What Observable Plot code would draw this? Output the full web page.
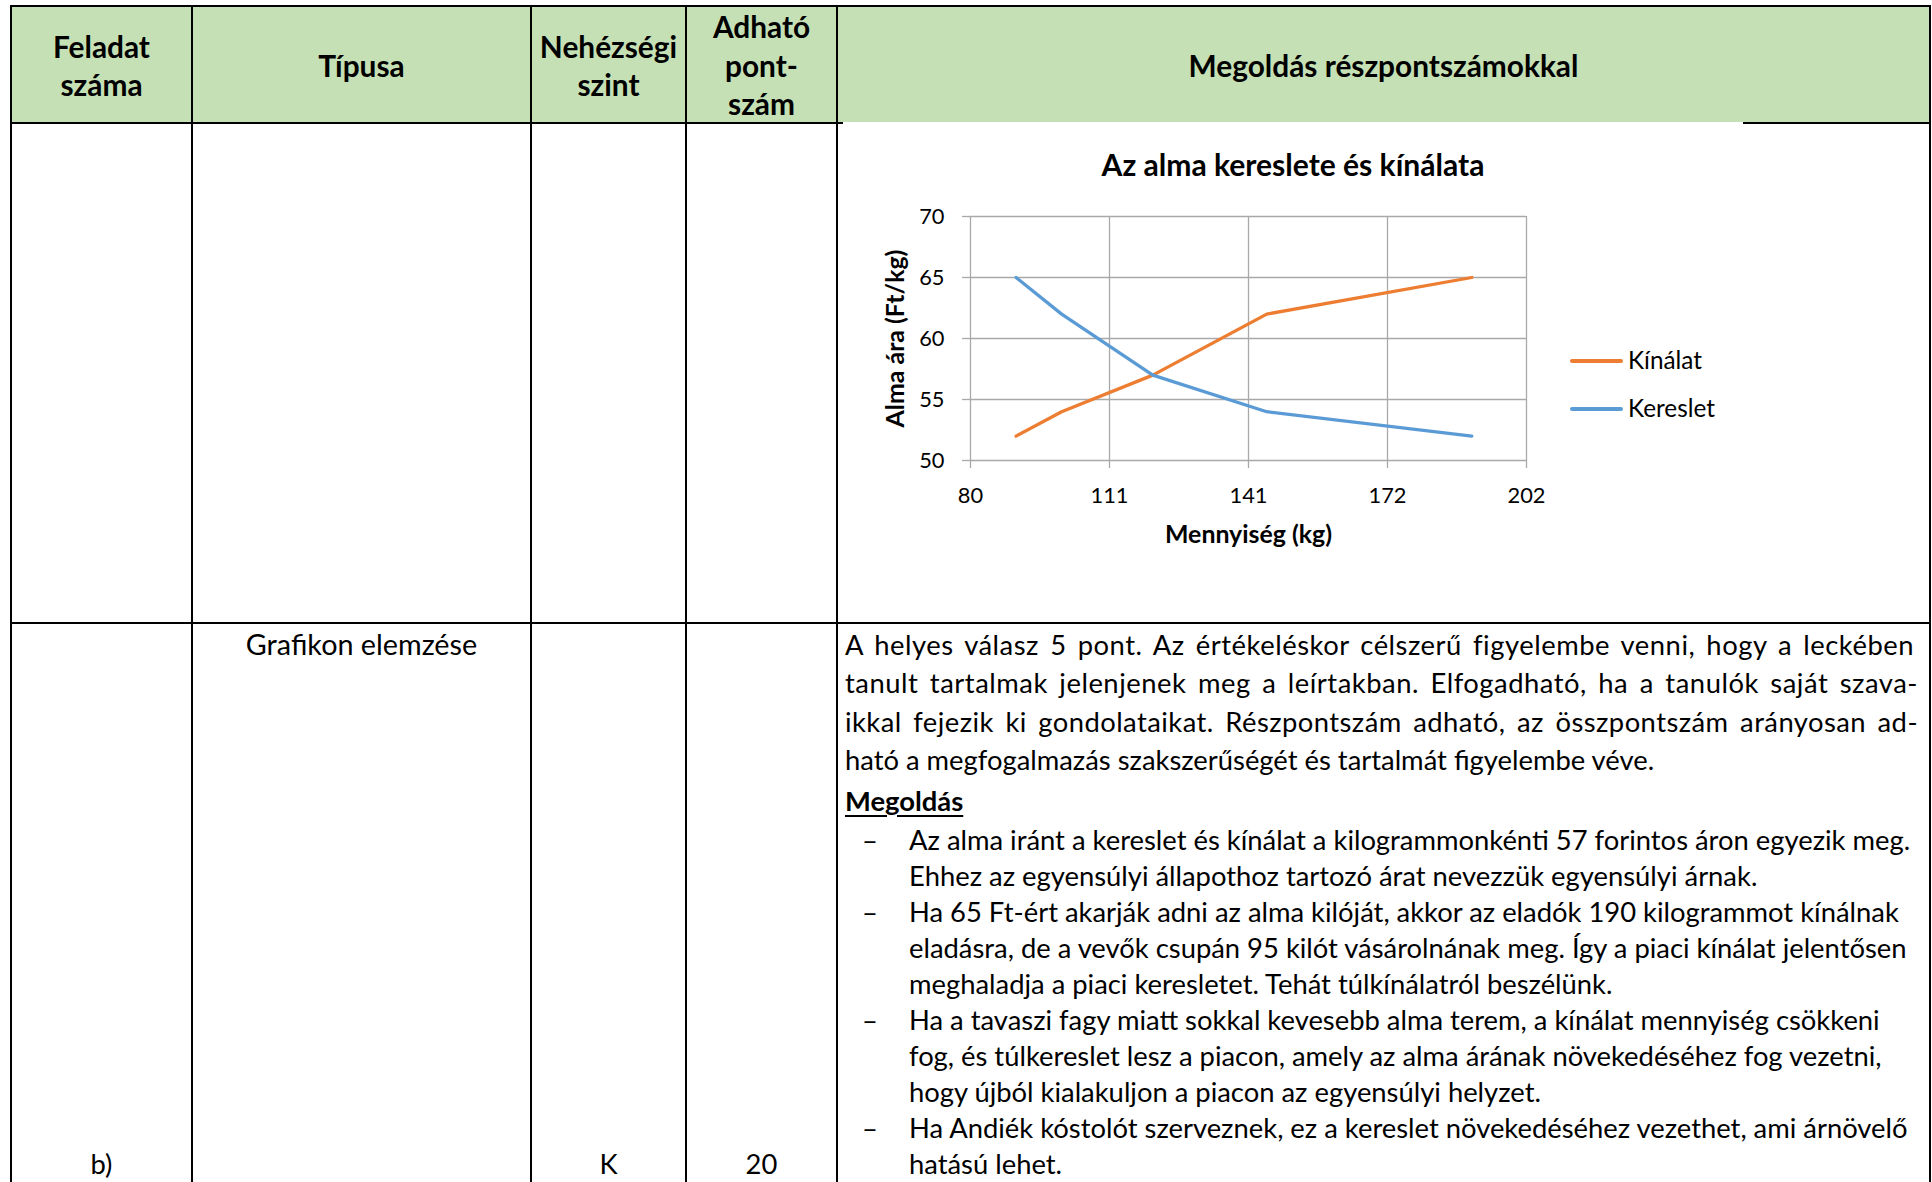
<!DOCTYPE html>
<html>
<head>
<meta charset="utf-8">
<script src="https://cdn.jsdelivr.net/npm/d3@7"></script>
<script src="https://cdn.jsdelivr.net/npm/@observablehq/plot@0.6"></script>
<style>
html, body { margin: 0; padding: 0; background: #fff; }
#page { position: relative; width: 1932px; height: 1182px; overflow: hidden; font-family: Lato, sans-serif; color: #000; background: #fff; }
.ln { position: absolute; background: #000; }
.t { position: absolute; white-space: nowrap; }
#chart { position: absolute; left: 840px; top: 190px; }
#chart svg { overflow: visible; }
</style>
</head>
<body>
<div id="page"></div>
<script>
// ---------- chart data ----------
const quantities = [90, 100, 120, 145, 190];
const supplyPrices = [52, 54, 57, 62, 65];
const demandPrices = [65, 62, 57, 54, 52];
const seriesNames = ["Kínálat", "Kereslet"];
const seriesColors = ["#ED7D31", "#5B9BD5"];
const xTicks = [80, 110.5, 141, 171.5, 202];
const xTickLabels = ["80", "111", "141", "172", "202"];
const yTicks = [50, 55, 60, 65, 70];
const yTickLabels = ["50", "55", "60", "65", "70"];
const chartTitle = "Az alma kereslete és kínálata";
const xLabel = "Mennyiség (kg)";
const yLabel = "Alma ára (Ft/kg)";

// ---------- table text ----------
const headers = [["Feladat", "száma"], ["Típusa"], ["Nehézségi", "szint"], ["Adható", "pont-", "szám"], ["Megoldás részpontszámokkal"]];
const rowTypeText = "Grafikon elemzése";
const rowNumber = "b)";
const rowLevel = "K";
const rowPoints = "20";
const introLines = [
  "A helyes válasz 5 pont. Az értékeléskor célszerű figyelembe venni, hogy a leckében",
  "tanult tartalmak jelenjenek meg a leírtakban. Elfogadható, ha a tanulók saját szava-",
  "ikkal fejezik ki gondolataikat. Részpontszám adható, az összpontszám arányosan ad-",
  "ható a megfogalmazás szakszerűségét és tartalmát figyelembe véve."
];
const solutionHeading = "Megoldás";
const bullets = [
  ["Az alma iránt a kereslet és kínálat a kilogrammonkénti 57 forintos áron egyezik meg.",
   "Ehhez az egyensúlyi állapothoz tartozó árat nevezzük egyensúlyi árnak."],
  ["Ha 65 Ft-ért akarják adni az alma kilóját, akkor az eladók 190 kilogrammot kínálnak",
   "eladásra, de a vevők csupán 95 kilót vásárolnának meg. Így a piaci kínálat jelentősen",
   "meghaladja a piaci keresletet. Tehát túlkínálatról beszélünk."],
  ["Ha a tavaszi fagy miatt sokkal kevesebb alma terem, a kínálat mennyiség csökkeni",
   "fog, és túlkereslet lesz a piacon, amely az alma árának növekedéséhez fog vezetni,",
   "hogy újból kialakuljon a piacon az egyensúlyi helyzet."],
  ["Ha Andiék kóstolót szerveznek, ez a kereslet növekedéséhez vezethet, ami árnövelő",
   "hatású lehet."]
];

// ---------- font fitting ----------
const ctx = document.createElement("canvas").getContext("2d");
function measure(text, weight, size) { ctx.font = `${weight} ${size}px Lato`; return ctx.measureText(text).width; }
function fit(text, weight, target) { return 100 * target / measure(text, weight, 100); }

const bodyFs = fit(bullets[0][0], 400, 1002);
const headFs = fit(headers[4][0], 700, 390);
const titleFs = fit(chartTitle, 700, 383);
const legendFs = fit(seriesNames[1], 400, 87);
const axisFs = (fit(xLabel, 700, 168) + fit(yLabel, 700, 177)) / 2;
const tickFs = fit("202", 400, 38);

const page = document.getElementById("page");
function el(cls, css, text) {
  const d = document.createElement("div");
  d.className = cls;
  Object.assign(d.style, css);
  if (text != null) d.textContent = text;
  page.appendChild(d);
  return d;
}
function hline(x1, x2, yc, w = 2) { el("ln", {left: x1 + "px", top: (yc - w / 2) + "px", width: (x2 - x1) + "px", height: w + "px"}); }
function vline(xc, y1, y2, w = 2) { el("ln", {left: (xc - w / 2) + "px", top: y1 + "px", width: w + "px", height: (y2 - y1) + "px"}); }
function line(text, {left, width, cy, fs, weight = 400, align = "left", H = 38, extra = {}}) {
  const css = {left: left + "px", top: (cy - H / 2 - 0.087 * fs + 2.5) + "px", height: H + "px", lineHeight: H + "px",
    fontSize: fs + "px", fontWeight: weight, textAlign: align, ...extra};
  if (width != null) css.width = width + "px";
  return el("t", css, text);
}

// ---------- table geometry ----------
const colX = [11, 192, 531, 686, 837, 1930];
const topY = 6, headBottom = 123, row2Top = 623;

// header fill
el("ln", {left: "12px", top: "7px", width: "1917px", height: "115px", background: "#C5E0B4"});

// header text
headers.forEach((lines, i) => {
  const H = 38.5;
  const c = 66;
  lines.forEach((s, j) => {
    const cy = c + (j - (lines.length - 1) / 2) * H;
    line(s, {left: colX[i], width: colX[i + 1] - colX[i], cy, fs: headFs, weight: 700, align: "center"});
  });
});

// borders
hline(10, 1931, topY);
hline(10, 843, headBottom);
hline(1743, 1931, headBottom);
hline(10, 1931, row2Top);
colX.forEach(x => vline(x, 5, 1182));

// row 2 left cells
line(rowTypeText, {left: colX[1], width: colX[2] - colX[1], cy: 644, fs: bodyFs * 1.05, align: "center"});
line(rowNumber, {left: colX[0], width: colX[1] - colX[0], cy: 1164, fs: bodyFs, align: "center"});
line(rowLevel, {left: colX[2], width: colX[3] - colX[2], cy: 1164, fs: bodyFs, align: "center"});
line(rowPoints, {left: colX[3], width: colX[4] - colX[3], cy: 1164, fs: bodyFs, align: "center"});

// intro paragraph (justified lines)
const paraLeft = 845, paraRight = 1918;
introLines.forEach((s, i) => {
  const cy = 644.5 + i * 38.5;
  const extra = {};
  if (i < introLines.length - 1) {
    const nat = measure(s, 400, bodyFs);
    const spaces = (s.match(/ /g) || []).length;
    const excess = paraRight - paraLeft - nat;
    const ls = excess * 0.5 / s.length;
    extra.letterSpacing = ls + "px";
    extra.wordSpacing = ((excess - ls * s.length) / spaces) + "px";
  }
  line(s, {left: paraLeft, cy, fs: bodyFs, extra});
});
line(solutionHeading, {left: paraLeft, cy: 801, fs: bodyFs, weight: 700,
  extra: {textDecoration: "underline", textDecorationThickness: "2px", textUnderlineOffset: "4px"}});

// bullets
let k = 0;
bullets.forEach(b => {
  b.forEach((s, j) => {
    const cy = 840.3 + k * 36;
    if (j === 0) line("–", {left: 862, cy, fs: bodyFs});
    line(s, {left: 909, cy, fs: bodyFs});
    k++;
  });
});

// ---------- chart ----------
line(chartTitle, {left: 993, width: 600, cy: 164, fs: titleFs, weight: 700, align: "center"});

const supply = quantities.map((q, i) => ({q, p: supplyPrices[i]}));
const demand = quantities.map((q, i) => ({q, p: demandPrices[i]}));
const gridColor = "#a9a9a9";

const chart = Plot.plot({
  width: 700,
  height: 370,
  marginLeft: 130,
  marginRight: 14,
  marginTop: 26,
  marginBottom: 100,
  style: {fontFamily: "Lato, sans-serif", color: "#000", background: "transparent", overflow: "visible"},
  x: {domain: [80, 202], axis: null},
  y: {domain: [50, 70], axis: null},
  marks: [
    Plot.gridX(xTicks, {stroke: gridColor, strokeOpacity: 1, strokeWidth: 1.3}),
    Plot.gridY(yTicks, {stroke: gridColor, strokeOpacity: 1, strokeWidth: 1.3}),
    Plot.axisX(xTicks, {tickSize: 8, tickPadding: 19, stroke: gridColor, strokeWidth: 1.3, fill: "#000",
      fontSize: tickFs, tickFormat: d => xTickLabels[xTicks.indexOf(d)], label: null}),
    Plot.axisY(yTicks, {tickSize: 8, tickPadding: 18, stroke: gridColor, strokeWidth: 1.3, fill: "#000",
      fontSize: tickFs, tickFormat: d => yTickLabels[yTicks.indexOf(d)], label: null}),
    Plot.line(supply, {x: "q", y: "p", stroke: seriesColors[0], strokeWidth: 3.3, strokeLinecap: "round", strokeLinejoin: "round"}),
    Plot.line(demand, {x: "q", y: "p", stroke: seriesColors[1], strokeWidth: 3.3, strokeLinecap: "round", strokeLinejoin: "round"}),
    Plot.text([xLabel], {frameAnchor: "bottom", textAnchor: "middle", dy: 82, fontWeight: "bold", fontSize: axisFs, fill: "#000"}),
    Plot.text([yLabel], {frameAnchor: "left", textAnchor: "middle", rotate: -90, dx: -74, fontWeight: "bold", fontSize: axisFs, fill: "#000"})
  ]
});
const holder = document.createElement("div");
holder.id = "chart";
holder.appendChild(chart);
page.appendChild(holder);

// legend (HTML)
seriesNames.forEach((name, i) => {
  const cy = 361 + i * 48;
  el("ln", {left: "1570px", top: (cy - 1.65) + "px", width: "53px", height: "3.3px", background: seriesColors[i], borderRadius: "2px"});
  line(name, {left: 1628, cy: cy - 1, fs: legendFs});
});
</script>
</body>
</html>
